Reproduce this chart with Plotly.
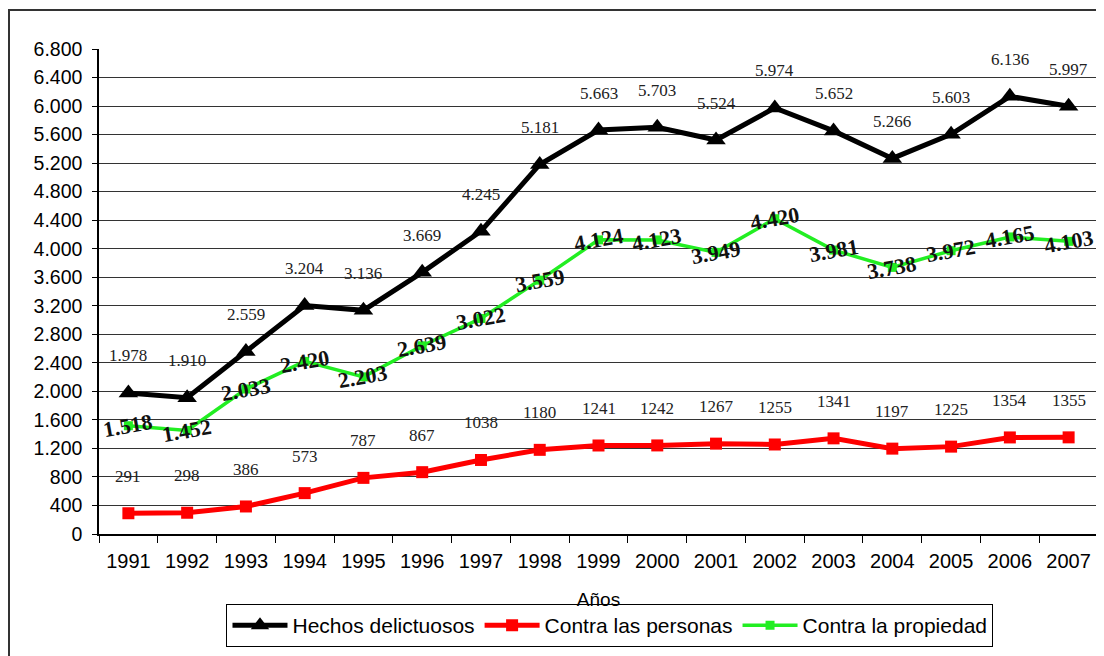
import plotly.graph_objects as go

years = ["1991", "1992", "1993", "1994", "1995", "1996", "1997", "1998", "1999",
         "2000", "2001", "2002", "2003", "2004", "2005", "2006", "2007"]
hechos = [1978, 1910, 2559, 3204, 3136, 3669, 4245, 5181, 5663, 5703, 5524, 5974,
          5652, 5266, 5603, 6136, 5997]
personas = [291, 298, 386, 573, 787, 867, 1038, 1180, 1241, 1242, 1267, 1255,
            1341, 1197, 1225, 1354, 1355]
propiedad = [1518, 1452, 2033, 2420, 2203, 2639, 3022, 3559, 4124, 4123, 3949, 4420,
             3981, 3738, 3972, 4165, 4103]
y_ticks = list(range(0, 6801, 400))


def dot(v):
    return f"{v:,}".replace(",", ".")


fig = go.Figure()
fig.add_trace(go.Scatter(
    x=years, y=hechos, name="Hechos delictuosos", mode="lines+markers",
    line=dict(color="black", width=5),
    marker=dict(symbol="triangle-up", size=17, color="black")))
fig.add_trace(go.Scatter(
    x=years, y=personas, name="Contra las personas", mode="lines+markers",
    line=dict(color="#ff0000", width=5),
    marker=dict(symbol="square", size=12, color="#ff0000")))
fig.add_trace(go.Scatter(
    x=years, y=propiedad, name="Contra la propiedad", mode="lines+markers",
    line=dict(color="#22ee22", width=3.5),
    marker=dict(symbol="square", size=9, color="#22ee22")))

ann = []
for i, v in enumerate(hechos):
    ann.append(dict(x=i, y=v, xref="x", yref="y", text=dot(v), showarrow=False,
                    yshift=37, font=dict(family="Liberation Serif", size=17, color="#222")))
for i, v in enumerate(personas):
    ann.append(dict(x=i, y=v, xref="x", yref="y", text=str(v), showarrow=False,
                    yshift=37, font=dict(family="Liberation Serif", size=17, color="#222")))
for i, v in enumerate(propiedad):
    ann.append(dict(x=i, y=v, xref="x", yref="y", text="<b>" + dot(v) + "</b>",
                    showarrow=False, textangle=-10,
                    font=dict(family="Liberation Serif", size=22, color="#111")))

# figure is drawn 8px in from the page corner; sizes compensate for that
fig.update_layout(
    width=1096, height=648,
    margin=dict(l=91, r=6, t=41, b=122),
    paper_bgcolor="white", plot_bgcolor="white",
    separators=",.",
    font=dict(family="Liberation Sans", color="black"),
    showlegend=True,
    legend=dict(orientation="h", x=0.5115, xanchor="center", y=-0.1443, yanchor="top",
                bgcolor="white", bordercolor="black", borderwidth=1,
                font=dict(family="Liberation Sans", size=21, color="black"),
                itemwidth=55),
    annotations=ann,
    shapes=[dict(type="rect", xref="paper", yref="paper",
                 x0=(1 - 91) / 999, x1=(1092 - 91) / 999,
                 y0=(526 - 700) / 485, y1=(526 - 2) / 485,
                 line=dict(color="#333", width=2), layer="below")],
)
fig.update_xaxes(
    type="category", range=[-0.5, len(years) - 0.5],
    showline=True, linecolor="black", linewidth=1.5,
    ticks="outside", tickson="boundaries", ticklen=7, tickcolor="black",
    showgrid=False, tickfont=dict(size=20, family="Liberation Sans"),
    tickangle=0, ticklabelstandoff=8,
    title=dict(text="Años", font=dict(size=19, family="Liberation Sans"), standoff=22))
fig.update_yaxes(
    range=[0, 6800], tickvals=y_ticks, tickformat=",d",
    showline=True, linecolor="black", linewidth=1.5,
    ticks="outside", ticklen=5, tickcolor="black",
    showgrid=True, gridcolor="#333", gridwidth=1, zeroline=False,
    tickfont=dict(size=19.5, family="Liberation Sans"), ticklabelstandoff=6)

fig.write_html("out.html")
